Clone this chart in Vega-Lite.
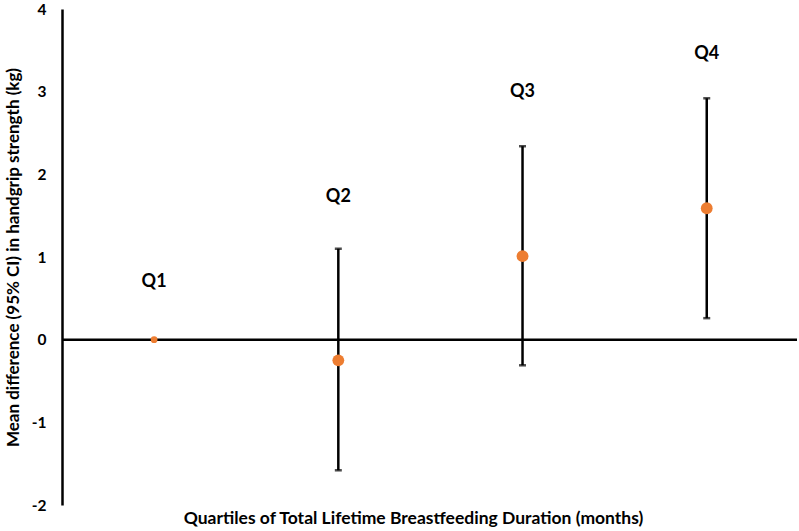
{
  "$schema": "https://vega.github.io/schema/vega-lite/v6.json",
  "autosize": {"type": "none"},
  "padding": {"left": 62, "top": 9, "right": 2, "bottom": 26},
  "width": 735,
  "height": 496,
  "background": "white",
  "config": {"view": {"stroke": null}, "font": "Lato"},
  "data": {
    "values": [
      {"q": "Q1", "pos": 1, "mean": 0, "lo": null, "hi": null, "label_y": 0.70},
      {"q": "Q2", "pos": 2, "mean": -0.25, "lo": -1.58, "hi": 1.10, "label_y": 1.73},
      {"q": "Q3", "pos": 3, "mean": 1.01, "lo": -0.31, "hi": 2.34, "label_y": 2.99},
      {"q": "Q4", "pos": 4, "mean": 1.59, "lo": 0.26, "hi": 2.92, "label_y": 3.46}
    ]
  },
  "encoding": {
    "x": {
      "field": "pos",
      "type": "quantitative",
      "scale": {"domain": [0.5, 4.49], "nice": false, "zero": false},
      "axis": {
        "domain": false, "ticks": false, "labels": false, "grid": false,
        "title": "Quartiles of Total Lifetime Breastfeeding Duration (months)",
        "titleFont": "Lato", "titleFontSize": 17.5, "titleFontWeight": "bold", "titleColor": "black",
        "titlePadding": 4, "titleX": 351
      }
    }
  },
  "layer": [
    {
      "data": {"values": [{"zero": 0}]},
      "mark": {"type": "rule", "color": "black", "strokeWidth": 2.5},
      "encoding": {
        "x": null,
        "y": {
          "field": "zero", "type": "quantitative",
          "scale": {"domain": [-2, 4], "nice": false},
          "axis": {
            "values": [-2, -1, 0, 1, 2, 3, 4],
            "labelExpr": "'' + datum.value",
            "domain": true, "domainColor": "black", "domainWidth": 2.5,
            "ticks": false, "grid": false,
            "labelFont": "Lato", "labelFontSize": 15.5, "labelFontWeight": "bold", "labelColor": "black",
            "labelPadding": 16,
            "title": "Mean difference (95% CI) in handgrip strength  (kg)",
            "titleFont": "Lato", "titleFontSize": 17, "titleFontWeight": "bold", "titleColor": "black",
            "titlePadding": 9
          }
        }
      }
    },
    {
      "transform": [{"filter": "datum.lo != null"}],
      "mark": {"type": "rule", "color": "black", "strokeWidth": 2.5},
      "encoding": {
        "y": {"field": "lo", "type": "quantitative"},
        "y2": {"field": "hi"}
      }
    },
    {
      "transform": [{"filter": "datum.lo != null"}],
      "mark": {"type": "tick", "color": "black", "thickness": 2.5, "size": 7, "orient": "horizontal"},
      "encoding": {"y": {"field": "lo", "type": "quantitative"}}
    },
    {
      "transform": [{"filter": "datum.hi != null"}],
      "mark": {"type": "tick", "color": "black", "thickness": 2.5, "size": 7, "orient": "horizontal"},
      "encoding": {"y": {"field": "hi", "type": "quantitative"}}
    },
    {
      "transform": [{"filter": "datum.q != 'Q1'"}],
      "mark": {"type": "circle", "color": "#ED7D31", "opacity": 1, "size": 140},
      "encoding": {"y": {"field": "mean", "type": "quantitative"}}
    },
    {
      "transform": [{"filter": "datum.q == 'Q1'"}],
      "mark": {"type": "circle", "color": "#ED7D31", "opacity": 1, "size": 45},
      "encoding": {"y": {"field": "mean", "type": "quantitative"}}
    },
    {
      "mark": {"type": "text", "font": "Lato", "fontSize": 18, "fontWeight": "bold", "color": "black", "baseline": "middle", "align": "center"},
      "encoding": {
        "y": {"field": "label_y", "type": "quantitative"},
        "text": {"field": "q"}
      }
    }
  ]
}
